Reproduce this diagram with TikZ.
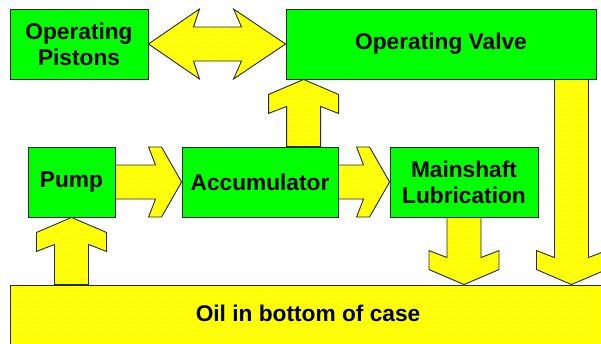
\documentclass[tikz,border=0pt]{standalone}
\usepackage{fontspec}
\setmainfont{Liberation Sans}
\usetikzlibrary{calc,patterns}

\pgfdeclarepatternformonly{sparsedots}{\pgfpoint{-1pt}{-1pt}}{\pgfpoint{9pt}{9pt}}{\pgfpoint{8pt}{8pt}}%
{\pgfpathcircle{\pgfpoint{2pt}{2pt}}{0.55pt}\pgfpathcircle{\pgfpoint{6pt}{6pt}}{0.55pt}\pgfusepath{fill}}

\definecolor{boxgreen}{RGB}{0,255,0}
\definecolor{oilyellow}{RGB}{255,255,0}
\definecolor{edgegray}{RGB}{40,40,40}

\tikzset{
  partbox/.style={draw=edgegray, line width=0.9pt, fill=boxgreen, inner sep=0pt, align=center,
    minimum height=70, font=\bfseries\fontsize{22.7}{26}\selectfont},
  flow/.style={draw=edgegray, line width=0.9pt, preaction={fill=oilyellow}, pattern=sparsedots, pattern color=white},
  label text/.style={font=\bfseries\fontsize{22.7}{26}\selectfont, inner sep=0pt},
}

\begin{document}
\begin{tikzpicture}[x=1pt, y=-1pt]
                \useasboundingbox (0,0) rectangle (601,343);
                \clip (0,0) rectangle (601,343);

                % oil sump first, everything else sits on it
                \node[flow, minimum width=596, minimum height=64, inner sep=0pt] (oil) at (308,317) {};
                \node[label text] (oiltext) at (308,313) {Oil in bottom of case};

                \node[partbox, minimum width=138] (pist) at (79,44) {Operating\\Pistons};
                \node[partbox, minimum width=310] (valve) at (441,44) {Operating Valve};
                \node[partbox, minimum width=87] (pump) at (71.5,182) {Pump};
                \node[partbox, minimum width=156] (acc) at (260,182) {Accumulator};
                \node[partbox, minimum width=148] (main) at (464,182) {Mainshaft\\Lubrication};

                \coordinate (vin) at ($(valve.south west)+(18,0)$);
                \coordinate (vout) at ($(valve.south east)+(-25,0)$);

                % pistons <-> valve
                \draw[flow] (pist.east) -- ++(51,-35) -- ++(-6,18) -- ($(valve.west)+(-44,-17)$) -- ++(-8,-18)
                    -- (valve.west) -- ++(-52,35) -- ++(8,-18) -- ($(pist.east)+(45,17)$) -- ++(6,18) -- cycle;

                % oil -> pump
                \draw[flow] (pump.south) -- ++(35,15) -- ++(0,19) -- ++(-18,-7) -- ($(pump.south |- oil.north)+(17,0)$)
                    -- ($(pump.south |- oil.north)+(-17,0)$) -- ($(pump.south)+(-17,27)$) -- ++(-18,7) -- ++(0,-19) -- cycle;

                % pump -> accumulator
                \draw[flow] (acc.west) -- ++(-20,-35) -- ++(-13,0) -- ++(7,18) -- ($(pump.east)+(0,-17)$)
                    -- ($(pump.east)+(0,17)$) -- ($(acc.west)+(-26,17)$) -- ++(-7,18) -- ++(13,0) -- cycle;

                % accumulator -> mainshaft
                \draw[flow] (main.west) -- ++(-20,-35) -- ++(-13,0) -- ++(7,18) -- ($(acc.east)+(0,-17)$)
                    -- ($(acc.east)+(0,17)$) -- ($(main.west)+(-26,17)$) -- ++(-7,18) -- ++(13,0) -- cycle;

                % accumulator -> valve
                \draw[flow] (vin) -- ++(35,15) -- ++(0,19) -- ++(-18,-7) -- ($(vin |- acc.north)+(17,0)$)
                    -- ($(vin |- acc.north)+(-17,0)$) -- ($(vin)+(-17,27)$) -- ++(-18,7) -- ++(0,-19) -- cycle;

                % mainshaft -> oil
                \draw[flow] (main.south |- oil.north) -- ++(35,-15) -- ++(0,-19) -- ++(-18,7) -- ($(main.south)+(17,0)$)
                    -- ($(main.south)+(-17,0)$) -- ($(main.south |- oil.north)+(-17,-27)$) -- ++(-18,-7) -- ++(0,19) -- cycle;

                % valve -> oil
                \draw[flow] (vout |- oil.north) -- ++(35,-15) -- ++(0,-19) -- ++(-18,7) -- ($(vout)+(17,0)$)
                    -- ($(vout)+(-17,0)$) -- ($(vout |- oil.north)+(-17,-27)$) -- ++(-18,-7) -- ++(0,19) -- cycle;

\end{tikzpicture}
\end{document}
